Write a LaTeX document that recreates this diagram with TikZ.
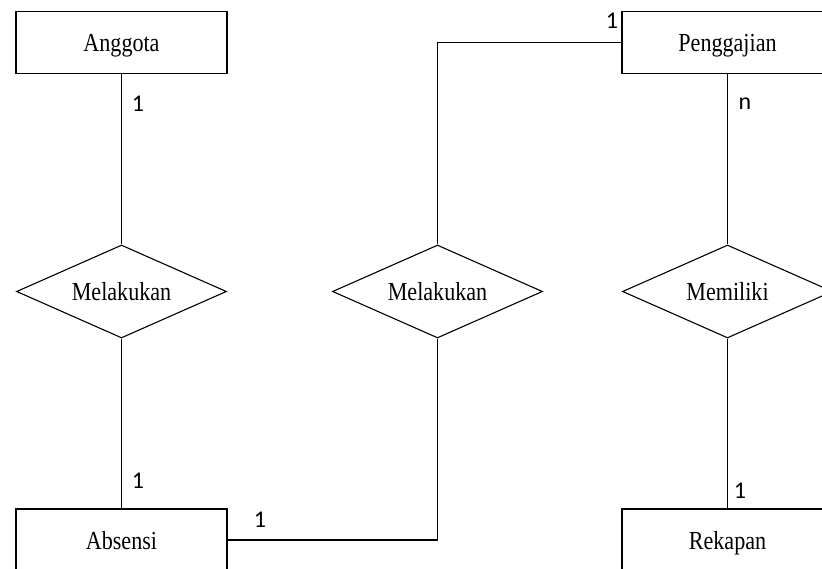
\documentclass[tikz,border=0pt]{standalone}
\usepackage{fontspec}
\usetikzlibrary{shapes.geometric}
\newfontfamily\boxfont[FakeStretch=0.85]{Liberation Serif}
\newfontfamily\cardfont{Carlito}
\begin{document}
\begin{tikzpicture}[x=1pt,y=-1pt,
  entity/.style={draw,line width=1.1pt,rectangle,minimum width=211pt,minimum height=62pt,inner sep=0pt,text height=22pt,text depth=4pt,font=\boxfont\fontsize{26}{28}\selectfont},
  relation/.style={draw,line width=1.1pt,diamond,aspect=2.26,minimum width=210pt,minimum height=93pt,inner sep=0pt,text height=22pt,text depth=4pt,font=\boxfont\fontsize{26}{28}\selectfont},
  card/.style={inner sep=0pt,font=\cardfont\fontsize{24}{26}\selectfont},
  link/.style={line width=1.1pt}]
\clip (0,0) rectangle (822,569);
\node[entity] (anggota) at (121.5,42.5) {Anggota};
\node[entity] (penggajian) at (727.5,42.5) {Penggajian};
\node[entity] (absensi) at (121.5,540) {Absensi};
\node[entity] (rekapan) at (727.5,540) {Rekapan};
\node[relation] (d1) at (121.5,291.5) {Melakukan};
\node[relation] (d2) at (437.5,291.5) {Melakukan};
\node[relation] (d3) at (727.5,291.5) {Memiliki};
\draw[link] (anggota.south) -- (d1.north);
\draw[link] (d1.south) -- (absensi.north);
\draw[link] (absensi.east) -| (d2.south);
\draw[link] (d2.north) |- (penggajian.west);
\draw[link] (penggajian.south) -- (d3.north);
\draw[link] (d3.south) -- (rekapan.north);
\node[card] (c1) at (138,104) {1};
\node[card] (c2) at (138,481) {1};
\node[card] (c3) at (260,520) {1};
\node[card] (c4) at (612,21) {1};
\node[card] (c5) at (745,104) {n};
\node[card] (c6) at (740,491) {1};
\end{tikzpicture}
\end{document}
